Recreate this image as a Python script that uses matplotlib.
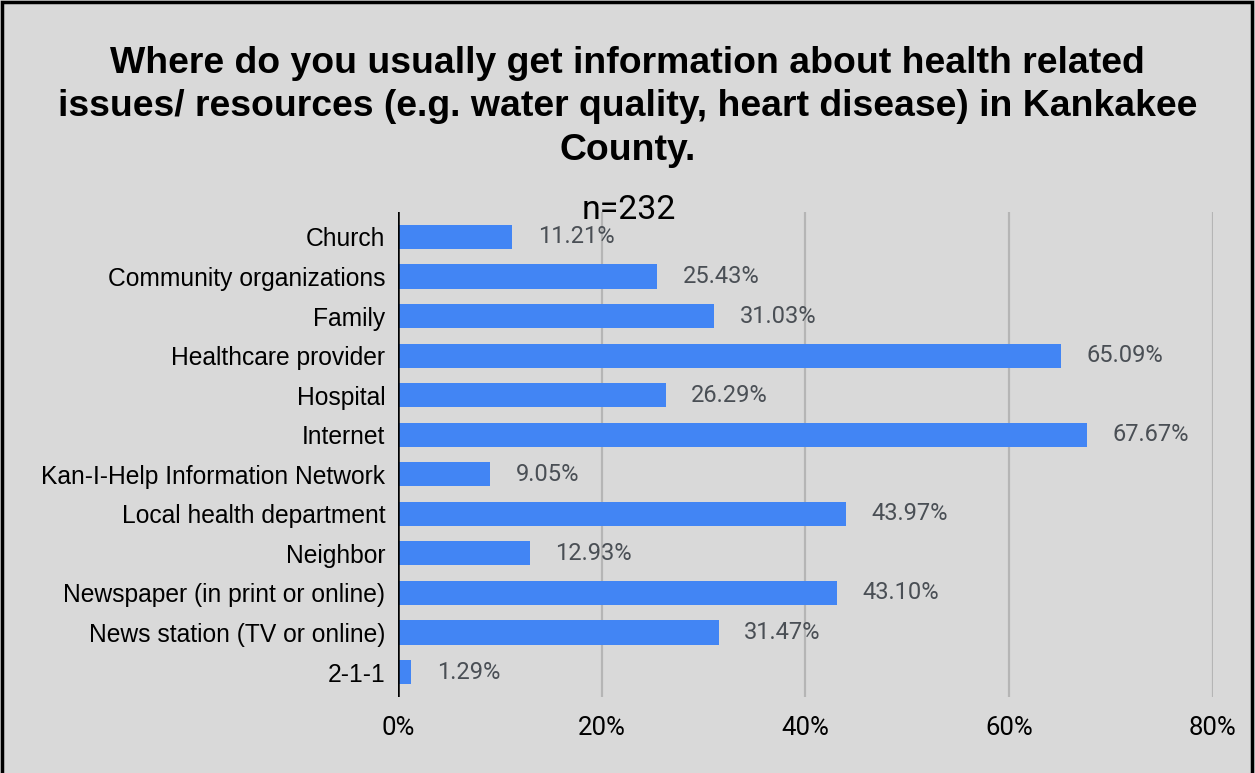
import matplotlib.pyplot as plt
from matplotlib.patches import Rectangle

categories = [
    'Church', 'Community organizations', 'Family', 'Healthcare provider',
    'Hospital', 'Internet', 'Kan-I-Help Information Network',
    'Local health department', 'Neighbor', 'Newspaper (in print or online)',
    'News station (TV or online)', '2-1-1',
]
percents = [11.21, 25.43, 31.03, 65.09, 26.29, 67.67, 9.05, 43.97, 12.93, 43.10, 31.47, 1.29]
xticks = [0, 20, 40, 60, 80]

title = ('Where do you usually get information about health related\n'
         'issues/ resources (e.g. water quality, heart disease) in Kankakee\n'
         'County.')

plt.rcParams['font.family'] = ['Liberation Sans', 'DejaVu Sans']
bg = '#d9d9d9'

fig = plt.figure(figsize=(12.55, 7.73), dpi=100, facecolor=bg)
ax = fig.add_axes([0.3171, 0.0983, 0.6494, 0.6274], facecolor=bg)

y = list(range(len(categories)))
ax.barh(y, percents, height=0.61, color='#4285f4', zorder=3)
for yi, v in zip(y, percents):
    ax.text(v + 2.5, yi, f'{v:.2f}%', va='center', ha='left',
            fontsize=17, color='#4a4f55', family=['Roboto', 'DejaVu Sans'])

ax.set_xlim(0, 80)
ax.set_ylim(len(categories) - 0.37, -0.63)
ax.set_yticks(y)
ax.set_yticklabels(categories, fontsize=17.7)
ax.set_xticks(xticks)
ax.set_xticklabels([f'{t}%' for t in xticks], fontsize=18.5, family=['Roboto', 'DejaVu Sans'])
ax.tick_params(axis='y', length=0, pad=9)
ax.tick_params(axis='x', length=0, pad=14)
ax.grid(axis='x', color='#b5b5b5', linewidth=1.6, zorder=0)
for s in ax.spines.values():
    s.set_visible(False)
ax.axvline(0, color='black', linewidth=1.8, zorder=4)

fig.text(0.5, 0.94, title, ha='center', va='top', fontsize=26.9, fontweight='bold',
         linespacing=1.3)
fig.text(0.501, 0.728, 'n=232', ha='center', va='center', fontsize=24.4,
         family=['Roboto', 'DejaVu Sans'])

fig.patches.append(Rectangle((0.0015, -0.01), 0.9965, 1.0075, transform=fig.transFigure,
                             fill=False, edgecolor='black', linewidth=2.5))

fig.savefig('out.png', dpi=100, facecolor=bg)
